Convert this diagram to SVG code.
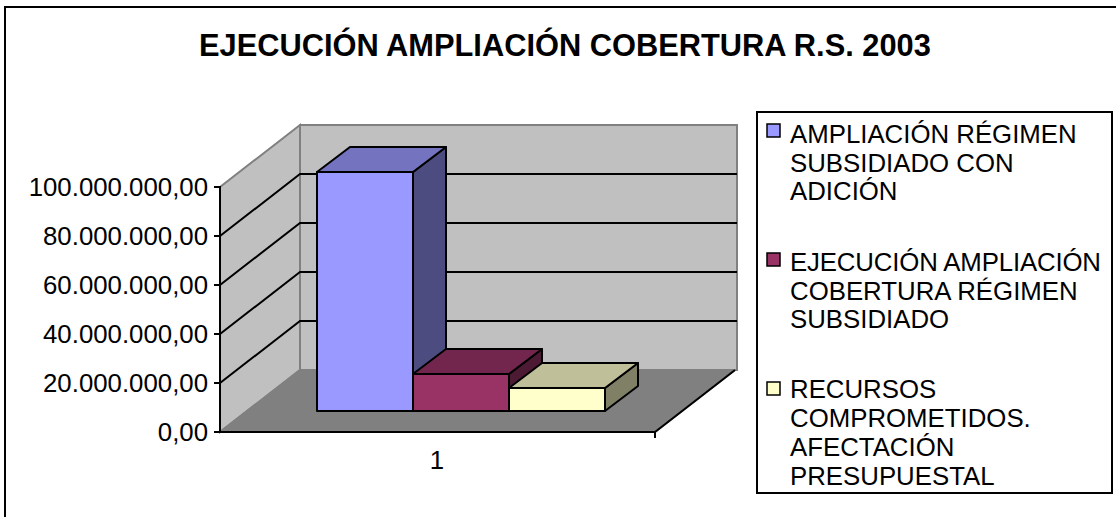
<svg xmlns="http://www.w3.org/2000/svg" width="1116" height="517" viewBox="0 0 1116 517">
<style>
text{font-family:"Liberation Sans",Arial,Helvetica,sans-serif;fill:#000}
.title{font-size:30.8px;font-weight:bold}
.ax{font-size:25.8px;text-anchor:end}
.lg{font-size:25.8px}
.wall{fill:#C0C0C0;stroke:#808080;stroke-width:2}
.floor{fill:#808080;stroke:#808080;stroke-width:2}
.grid{stroke:#000;stroke-width:2;fill:none}
.edge{stroke:#000;stroke-width:2;fill:none}
.bar{stroke:#000;stroke-width:2;stroke-linejoin:round}
.sw{stroke:#000;stroke-width:1.5}
</style>
<rect x="5" y="7" width="1130" height="530" fill="#fff" stroke="#000" stroke-width="2"/>
<g id="title"><text class="title" x="199" y="56">EJECUCIÓN AMPLIACIÓN COBERTURA R.S. 2003</text></g>
<g id="plot">
<polygon class="wall" points="300,125 737,125 737,370 300,370"/>
<polygon class="wall" points="220,187 300,125 300,370 220,432"/>
<polygon class="floor" points="220,432 300,370 735,370 655,432"/>
<g class="grid">
<polyline points="220,383 300,321 737,321"/>
<polyline points="220,334 300,272 737,272"/>
<polyline points="220,285 300,223 737,223"/>
<polyline points="220,236 300,174 737,174"/>
<line x1="735" y1="370" x2="655" y2="432"/>
</g>
<g class="edge">
<line x1="220" y1="186" x2="220" y2="433"/>
<line x1="219" y1="432" x2="655" y2="432"/>
<line x1="214" y1="187" x2="220" y2="187"/>
<line x1="214" y1="236" x2="220" y2="236"/>
<line x1="214" y1="285" x2="220" y2="285"/>
<line x1="214" y1="334" x2="220" y2="334"/>
<line x1="214" y1="383" x2="220" y2="383"/>
<line x1="214" y1="432" x2="220" y2="432"/>
<line x1="655" y1="432" x2="655" y2="438"/>
</g>
</g>
<g id="axis-labels">
<text class="ax" x="208" y="196">100.000.000,00</text>
<text class="ax" x="208" y="245">80.000.000,00</text>
<text class="ax" x="208" y="294">60.000.000,00</text>
<text class="ax" x="208" y="343">40.000.000,00</text>
<text class="ax" x="208" y="392">20.000.000,00</text>
<text class="ax" x="208" y="441">0,00</text>
<text class="lg" x="437" y="469" text-anchor="middle">1</text>
</g>
<g id="bar-ampliacion">
<polygon class="bar" fill="#4C4C80" points="413,172 446,147 446,386 413,411"/>
<polygon class="bar" fill="#7373BF" points="317,172 350,147 446,147 413,172"/>
<rect class="bar" fill="#9999FF" x="317" y="172" width="96" height="239"/>
</g>
<g id="bar-ejecucion">
<polygon class="bar" fill="#4D1A33" points="509,374 542,349 542,386 509,411"/>
<polygon class="bar" fill="#73264D" points="413,374 446,349 542,349 509,374"/>
<rect class="bar" fill="#993366" x="413" y="374" width="96" height="37"/>
</g>
<g id="bar-recursos">
<polygon class="bar" fill="#808066" points="605,388 638,363 638,386 605,411"/>
<polygon class="bar" fill="#BFBF99" points="509,388 542,363 638,363 605,388"/>
<rect class="bar" fill="#FFFFCC" x="509" y="388" width="96" height="23"/>
</g>
<g id="legend">
<rect x="757" y="112" width="355" height="381" fill="#fff" stroke="#000" stroke-width="2"/>
<g id="legend-1">
<rect class="sw" fill="#9999FF" x="767" y="124" width="13" height="13"/>
<text class="lg" x="790" y="143">AMPLIACIÓN RÉGIMEN</text>
<text class="lg" x="790" y="172">SUBSIDIADO CON</text>
<text class="lg" x="790" y="200">ADICIÓN</text>
</g>
<g id="legend-2">
<rect class="sw" fill="#993366" x="767" y="253" width="13" height="13"/>
<text class="lg" x="790" y="271" textLength="311" lengthAdjust="spacing">EJECUCIÓN AMPLIACIÓN</text>
<text class="lg" x="790" y="300">COBERTURA RÉGIMEN</text>
<text class="lg" x="790" y="328">SUBSIDIADO</text>
</g>
<g id="legend-3">
<rect class="sw" fill="#FFFFCC" x="767" y="382" width="13" height="13"/>
<text class="lg" x="790" y="398">RECURSOS</text>
<text class="lg" x="790" y="427">COMPROMETIDOS.</text>
<text class="lg" x="790" y="456">AFECTACIÓN</text>
<text class="lg" x="790" y="485">PRESUPUESTAL</text>
</g>
</g>
</svg>
